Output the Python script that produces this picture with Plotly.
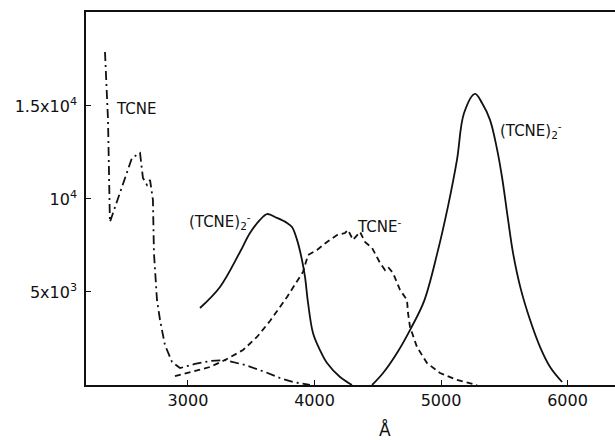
import plotly.graph_objects as go

# Wavelength (Angstrom) and extinction values
tcne_wl = [2344, 2368, 2383, 2470, 2557, 2621, 2644, 2676, 2700, 2723, 2731, 2755, 2779, 2818,
           2874, 2937, 3055, 3174, 3292, 3450, 3609, 3727, 3830, 3964]
tcne_eps = [17900, 14250, 8760, 10500, 12200, 12470, 11130, 10750, 11020, 9950, 7100, 4570, 3490, 2150,
            1240, 910, 1130, 1290, 1340, 1075, 700, 376, 160, 0]

dimer_a_wl = [3095, 3253, 3411, 3490, 3569, 3625, 3704, 3783, 3822, 3862, 3901, 3925, 3949, 3988,
              4043, 4099, 4202, 4296]
dimer_a_eps = [4140, 5270, 7150, 8170, 8870, 9190, 8980, 8710, 8490, 7800, 6720, 5810, 4410, 2800,
               1880, 1180, 430, 0]

anion_wl = [2897, 3016, 3174, 3292, 3435, 3545, 3648, 3783, 3909, 3949, 4020, 4099, 4178, 4241,
            4265, 4304, 4360, 4399, 4455, 4518, 4557, 4581, 4621, 4676, 4731, 4739, 4755, 4810,
            4889, 4992, 5126, 5285]
anion_eps = [480, 700, 970, 1340, 1880, 2580, 3440, 4730, 6080, 6990, 7260, 7690, 8060, 8170,
             8330, 7800, 8230, 7690, 7370, 6560, 6180, 6340, 6020, 5110, 4570, 3870, 3120, 2040,
             1180, 645, 270, 0]

dimer_b_wl = [4455, 4542, 4652, 4763, 4866, 4968, 5055, 5126, 5182, 5269, 5324, 5387, 5439, 5482,
              5530, 5569, 5628, 5704, 5783, 5862, 5957]
dimer_b_eps = [0, 645, 1720, 3060, 4510, 7020, 9600, 12100, 14620, 15650, 15160, 14250, 12800, 11180,
               8870, 7100, 5220, 3490, 2040, 970, 160]

x_ticks = [3000, 4000, 5000, 6000]
x_tick_labels = ["3000", "4000", "5000", "6000"]
y_ticks = [5000, 10000, 15000]
y_tick_labels = ["5x10<sup>3</sup>", "10<sup>4</sup>", "1.5x10<sup>4</sup>"]

FONT = "DejaVu Sans"
INK = "#111111"

fig = go.Figure()
fig.add_trace(go.Scatter(x=tcne_wl, y=tcne_eps, mode="lines",
                         line=dict(color=INK, width=1.8, dash="9px,4px,2px,4px")))
fig.add_trace(go.Scatter(x=dimer_a_wl, y=dimer_a_eps, mode="lines", line_shape="spline",
                         line=dict(color=INK, width=1.8, smoothing=1.0)))
fig.add_trace(go.Scatter(x=anion_wl, y=anion_eps, mode="lines",
                         line=dict(color=INK, width=1.8, dash="6px,4px")))
fig.add_trace(go.Scatter(x=dimer_b_wl, y=dimer_b_eps, mode="lines", line_shape="spline",
                         line=dict(color=INK, width=1.8, smoothing=1.0)))

labels = [
    (2593, 14840, "TCNE", "center"),
    (2992, 8800, "(TCNE)<sub>2</sub><sup>-</sup>", "left"),
    (4320, 8550, "TCNE<sup>-</sup>", "left"),
    (5451, 13660, "(TCNE)<sub>2</sub><sup>-</sup>", "left"),
]
for x, y, t, anc in labels:
    fig.add_annotation(x=x, y=y, text=t, showarrow=False, xanchor=anc, yanchor="middle",
                       font=dict(family=FONT, size=15, color=INK))

fig.add_annotation(x=4557, y=0, yshift=-44, text="Å", showarrow=False, xanchor="center",
                   yanchor="middle", font=dict(family=FONT, size=17, color=INK))

fig.update_layout(
    width=615, height=440,
    margin=dict(l=86, r=0, t=12, b=55),
    paper_bgcolor="white", plot_bgcolor="white",
    showlegend=False,
    font=dict(family=FONT, size=16, color=INK),
)
fig.update_xaxes(range=[2194, 6375], tickvals=x_ticks, ticktext=x_tick_labels,
                 ticks="inside", ticklen=5, tickcolor=INK, showgrid=False, zeroline=False,
                 showline=True, linecolor=INK, linewidth=1.5, mirror=True,
                 tickfont=dict(family=FONT, size=16, color=INK))
fig.update_yaxes(range=[0, 20050], tickvals=y_ticks, ticktext=y_tick_labels,
                 ticks="inside", ticklen=5, tickcolor=INK, showgrid=False, zeroline=False,
                 showline=True, linecolor=INK, linewidth=1.5, ticklabelstandoff=4,
                 tickfont=dict(family=FONT, size=16, color=INK))

fig.write_html("out.html")
